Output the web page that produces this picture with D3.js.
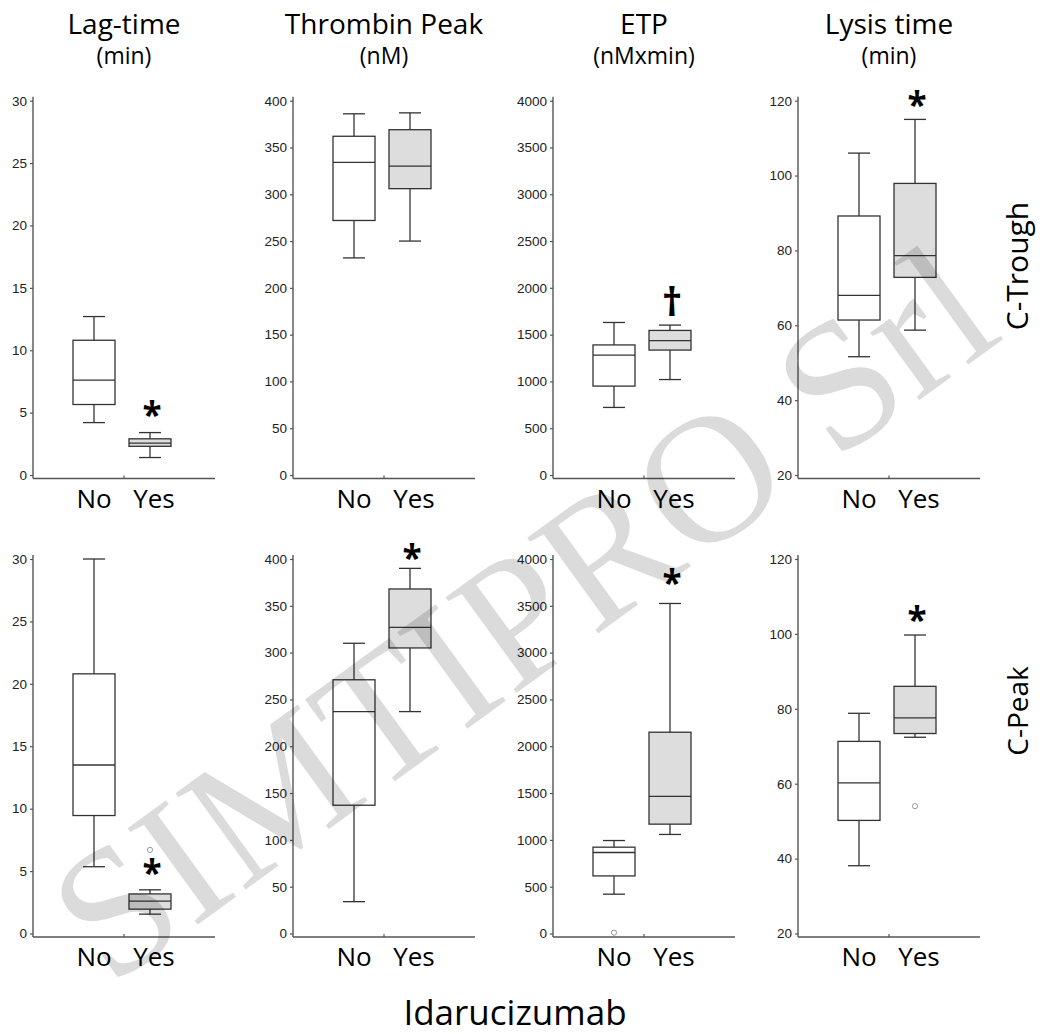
<!DOCTYPE html>
<html>
<head>
<meta charset="utf-8">
<script src="https://cdn.jsdelivr.net/npm/d3@7"></script>
<style>
  body { margin: 0; background: #fff; }
</style>
</head>
<body>
<div id="chart"></div>
<script>
// values
var groups = ["No", "Yes"];
var measures = ["Lag-time", "Thrombin Peak", "ETP", "Lysis time"];
var units = ["(min)", "(nM)", "(nMxmin)", "(min)"];
var timepoints = ["C-Trough", "C-Peak"];
var yDomains = [[0, 30], [0, 400], [0, 4000], [20, 120]];
var tickValues = [
    [0, 5, 10, 15, 20, 25, 30],
    [0, 50, 100, 150, 200, 250, 300, 350, 400],
    [0, 500, 1000, 1500, 2000, 2500, 3000, 3500, 4000],
    [20, 40, 60, 80, 100, 120]
];

// box stats per measure: [low whisker, q1, median, q3, high whisker]
var troughNo  = [[4.2, 5.65, 7.6, 10.8, 12.7], [232, 272, 334, 362, 386], [722, 950, 1280, 1390, 1630], [51.6, 61.4, 68, 89.2, 106]];
var troughYes = [[1.4, 2.3, 2.55, 2.9, 3.4], [250, 306, 330, 369, 387], [1020, 1335, 1435, 1545, 1602], [58.7, 72.8, 78.6, 97.9, 115]];
var peakNo    = [[5.35, 9.45, 13.5, 20.8, 30], [34, 137, 237, 271, 310], [420, 615, 865, 922, 993], [38.1, 50.2, 60.2, 71.3, 78.8]];
var peakYes   = [[1.55, 1.95, 2.6, 3.17, 3.5], [237, 305, 327, 368, 390], [1058, 1168, 1465, 2150, 3525], [72.4, 73.4, 77.6, 86, 99.7]];

// outliers: [row, column, group, value]
var outliers = [[1, 0, "Yes", 6.7], [1, 2, "No", 9], [1, 3, "Yes", 54]];
// significance symbols: [row, column, group, symbol, value at symbol centre]
var marks = [
    [0, 0, "Yes", "*", 5.4], [0, 2, "Yes", "\u2020", 1874], [0, 3, "Yes", "*", 120.7],
    [1, 0, "Yes", "*", 5.4], [1, 1, "Yes", "*", 409], [1, 2, "Yes", "*", 3820], [1, 3, "Yes", "*", 105.5]
];

var stats = [[troughNo, troughYes], [peakNo, peakYes]];

// layout
var W = 1044, H = 1034;
var colX = [33, 293, 553, 798];     // y axis position per column
var axisWidth = 182;
var rowY = [[475, 100.7], [933.5, 559]];  // [bottom, top] of y range per row
var boxW = 42, capW = 22;
var sansFont = "'Open Sans', sans-serif";
var tickFont = "'Liberation Sans', Arial, sans-serif";

var svg = d3.select("#chart")
    .append("svg")
    .attr("width", W)
    .attr("height", H);

var panels = [];
timepoints.forEach(function(tp, r) {
    measures.forEach(function(m, c) {
        panels.push({row: r, col: c});
    });
});

function scalesFor(r, c) {
    var x = d3.scalePoint()
        .domain(groups)
        .range([colX[c] + 61, colX[c] + 117]);
    var y = d3.scaleLinear()
        .domain(yDomains[c])
        .range(rowY[r]);
    return {x: x, y: y};
}

panels.forEach(function(p) {
    var s = scalesFor(p.row, p.col);
    var x = s.x, y = s.y;
    var g = svg.append("g");
    var bottom = rowY[p.row][0] + 3.5;
    var x0 = colX[p.col], x1 = colX[p.col] + axisWidth;

    // y axis
    g.append("g")
        .attr("transform", "translate(" + x0 + ",0)")
        .call(d3.axisLeft(y).tickValues(tickValues[p.col]).tickFormat(d3.format("d"))
            .tickSize(3).tickPadding(3).tickSizeOuter(0))
        .call(function(a) {
            a.select(".domain").remove();
            a.selectAll("line").attr("stroke", "#555").attr("stroke-width", 1.2);
            a.selectAll("text").attr("font-family", tickFont).attr("font-size", 13.5).attr("fill", "#222");
        });
    g.append("line")
        .attr("x1", x0).attr("x2", x0)
        .attr("y1", rowY[p.row][1] - 4).attr("y2", bottom)
        .attr("stroke", "#555").attr("stroke-width", 1.4);

    // x axis line with a small centre tick
    g.append("line")
        .attr("x1", x0).attr("x2", x1)
        .attr("y1", bottom).attr("y2", bottom)
        .attr("stroke", "#555").attr("stroke-width", 1.4);
    g.append("line")
        .attr("x1", (x0 + x1) / 2).attr("x2", (x0 + x1) / 2)
        .attr("y1", bottom).attr("y2", bottom - 3)
        .attr("stroke", "#555").attr("stroke-width", 1.2);

    // group labels
    g.selectAll(".glab")
        .data(groups)
        .enter()
        .append("text")
            .attr("x", function(d) { return x(d) + (d == "Yes" ? 4 : 0); })
            .attr("y", bottom + 29)
            .attr("text-anchor", "middle")
            .attr("font-family", sansFont)
            .attr("font-size", 26)
            .attr("fill", "#000")
            .text(function(d) { return d; });

    // boxes
    var boxData = groups.map(function(gname, i) {
        return {group: gname, v: stats[p.row][i][p.col]};
    });
    var b = g.selectAll(".box")
        .data(boxData)
        .enter()
        .append("g");
    b.append("line")   // whisker
        .attr("x1", function(d) { return x(d.group); })
        .attr("x2", function(d) { return x(d.group); })
        .attr("y1", function(d) { return y(d.v[0]); })
        .attr("y2", function(d) { return y(d.v[4]); })
        .attr("stroke", "#333").attr("stroke-width", 1.3);
    b.selectAll(".cap")
        .data(function(d) { return [[d.group, d.v[0]], [d.group, d.v[4]]]; })
        .enter()
        .append("line")
            .attr("x1", function(d) { return x(d[0]) - capW / 2; })
            .attr("x2", function(d) { return x(d[0]) + capW / 2; })
            .attr("y1", function(d) { return y(d[1]); })
            .attr("y2", function(d) { return y(d[1]); })
            .attr("stroke", "#333").attr("stroke-width", 1.3);
    b.append("rect")
        .attr("x", function(d) { return x(d.group) - boxW / 2; })
        .attr("y", function(d) { return y(d.v[3]); })
        .attr("width", boxW)
        .attr("height", function(d) { return y(d.v[1]) - y(d.v[3]); })
        .attr("fill", function(d) { return d.group == "Yes" ? "#dddddd" : "#fff"; })
        .attr("stroke", "#333").attr("stroke-width", 1.3);
    b.append("line")   // median
        .attr("x1", function(d) { return x(d.group) - boxW / 2; })
        .attr("x2", function(d) { return x(d.group) + boxW / 2; })
        .attr("y1", function(d) { return y(d.v[2]); })
        .attr("y2", function(d) { return y(d.v[2]); })
        .attr("stroke", "#333").attr("stroke-width", 1.3);

    // outliers
    g.selectAll(".out")
        .data(outliers.filter(function(o) { return o[0] == p.row && o[1] == p.col; }))
        .enter()
        .append("circle")
            .attr("cx", function(d) { return x(d[2]); })
            .attr("cy", function(d) { return y(d[3]); })
            .attr("r", 2.6)
            .attr("fill", "none")
            .attr("stroke", "#999").attr("stroke-width", 1);

    // significance symbols
    g.selectAll(".mark")
        .data(marks.filter(function(o) { return o[0] == p.row && o[1] == p.col; }))
        .enter()
        .append("text")
            .attr("x", function(d) { return x(d[2]) + 2; })
            .attr("y", function(d) { return d[3] == "*" ? y(d[4]) + 19 : y(d[4]) + 16; })
            .attr("text-anchor", "middle")
            .attr("font-family", sansFont)
            .attr("font-size", function(d) { return d[3] == "*" ? 35 : 40; })
            .attr("font-weight", "bold")
            .attr("fill", "#000")
            .text(function(d) { return d[3]; });
});

// column titles
measures.forEach(function(m, c) {
    var cx = colX[c] + axisWidth / 2;
    svg.append("text")
        .attr("x", cx).attr("y", 34)
        .attr("text-anchor", "middle")
        .attr("font-family", sansFont).attr("font-size", 28)
        .text(m);
    svg.append("text")
        .attr("x", cx).attr("y", 64)
        .attr("text-anchor", "middle")
        .attr("font-family", sansFont).attr("font-size", 23)
        .text(units[c]);
});

// row labels
var rowLabelY = [266, 711];
var rowLabelSize = [30, 28];
timepoints.forEach(function(t, r) {
    svg.append("text")
        .attr("transform", "translate(1028," + rowLabelY[r] + ") rotate(-90)")
        .attr("text-anchor", "middle")
        .attr("font-family", sansFont).attr("font-size", rowLabelSize[r])
        .text(t);
});

// x title
svg.append("text")
    .attr("x", 515).attr("y", 1025)
    .attr("text-anchor", "middle")
    .attr("font-family", sansFont).attr("font-size", 35)
    .text("Idarucizumab");

// watermark
svg.append("text")
    .attr("transform", "translate(523,614) rotate(-36)")
    .attr("y", 60)
    .attr("text-anchor", "middle")
    .attr("font-family", "'Liberation Serif', serif")
    .attr("font-size", 182)
    .attr("fill", "#000")
    .attr("fill-opacity", 0.14)
    .attr("pointer-events", "none")
    .text("SIMTIPRO Srl");
</script>
</body>
</html>
